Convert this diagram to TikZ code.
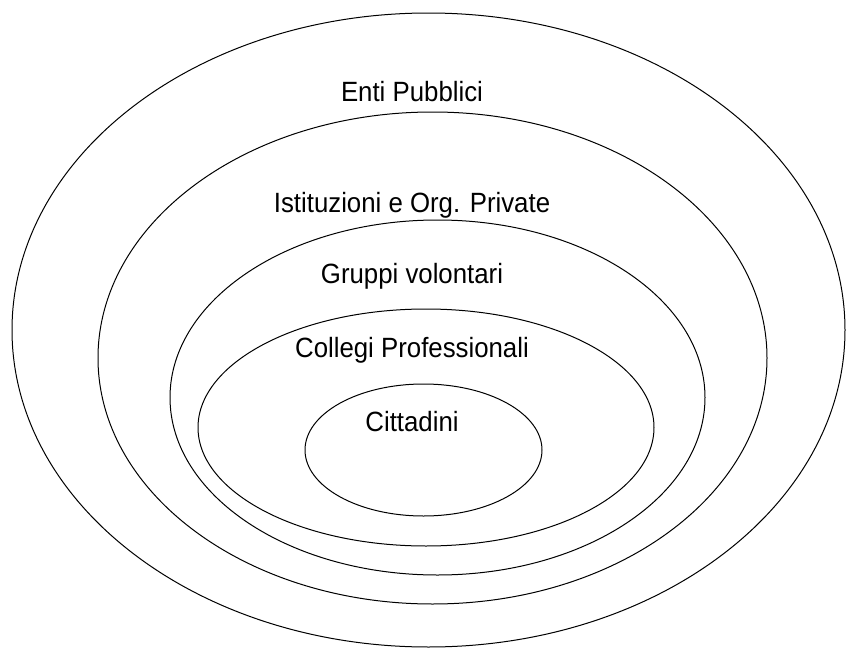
\documentclass[tikz,border=0pt]{standalone}
\usepackage{fontspec}
\setmainfont{Liberation Sans}
\newcommand{\tallt}[1]{\scalebox{1}[1.08]{#1}}
\begin{document}
\begin{tikzpicture}[x=1pt,y=-1pt,
  ring/.style={draw=black, line width=1pt},
  lbl/.style={anchor=base, inner sep=0pt, font=\fontsize{25.8}{30}\selectfont}]
\useasboundingbox[fill=white] (0,0) rectangle (847,648);
\coordinate (c1) at (428.5,330);
\coordinate (c2) at (432.5,358);
\coordinate (c3) at (437.5,397.5);
\coordinate (c4) at (426,427.5);
\coordinate (c5) at (423.5,450);
\draw[ring] (c1) ellipse [x radius=416.5, y radius=317];
\draw[ring] (c2) ellipse [x radius=334.5, y radius=246];
\draw[ring] (c3) ellipse [x radius=267.5, y radius=177.5];
\draw[ring] (c4) ellipse [x radius=228, y radius=118.5];
\draw[ring] (c5) ellipse [x radius=118.5, y radius=66];
\node[lbl] (t1) at (412,101.5) {\tallt{Enti Pubblici}};
\node[lbl] (t2) at (412,212.5) {\tallt{Istituzioni e Org. Private}};
\node[lbl] (t3) at (412,283) {\tallt{Gruppi volontari}};
\node[lbl] (t4) at (412,357) {\tallt{Collegi Professionali}};
\node[lbl] (t5) at (412,431) {\tallt{Cittadini}};
\end{tikzpicture}
\end{document}
